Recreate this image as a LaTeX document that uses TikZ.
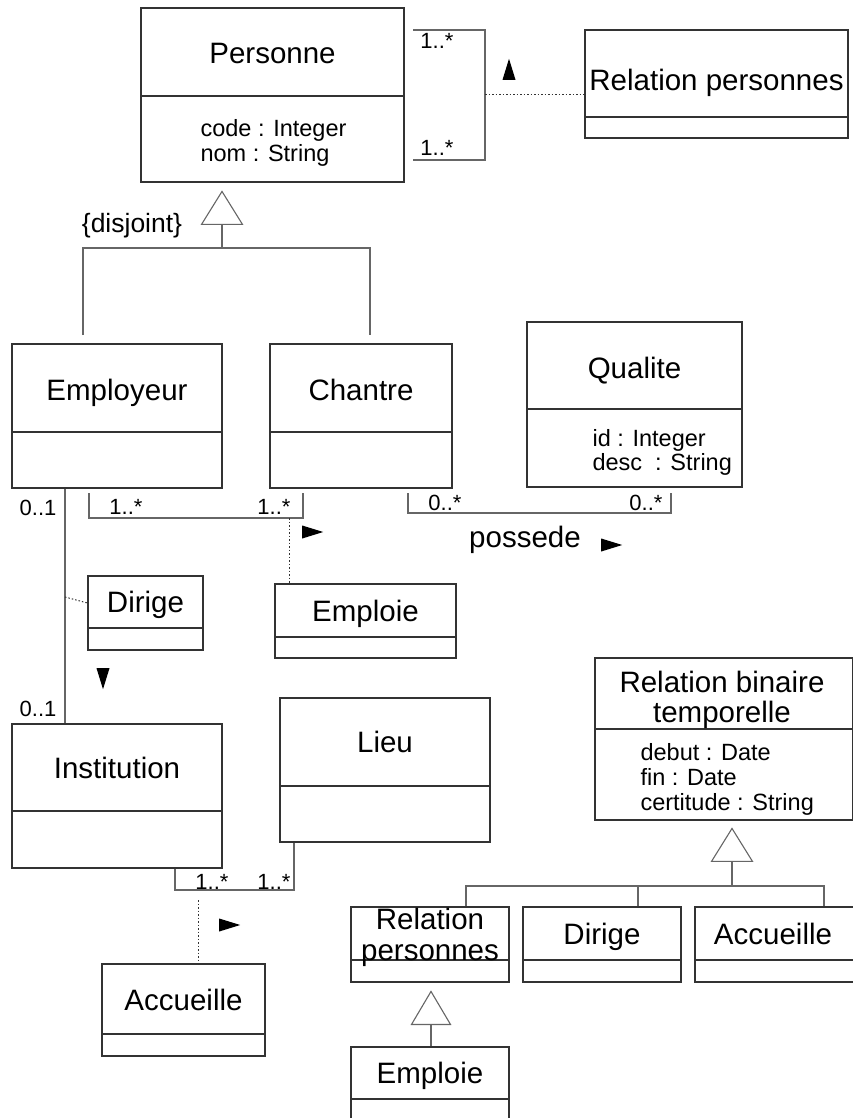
\documentclass[tikz,border=0pt]{standalone}
\usepackage{fontspec}
\setmainfont{Liberation Sans}
\usetikzlibrary{shapes.geometric}

\begin{document}
\begin{tikzpicture}[x=1pt, y=-1pt, line width=1.1pt,
    cls/.style = {draw=black!80, rectangle, inner sep=0pt},
    ttl/.style = {font=\fontsize{29.5}{35}\selectfont, inner sep=0pt, text height=21pt, text depth=0pt},
    att/.style = {font=\fontsize{23.5}{28}\selectfont, inner sep=0pt, text height=17pt, text depth=0pt, anchor=west},
    mult/.style = {font=\fontsize{22}{26}\selectfont, inner sep=0pt, text height=16pt, text depth=0pt},
    gen/.style = {draw=black!60, fill=white, isosceles triangle, isosceles triangle stretches, shape border rotate=90, inner sep=0pt, minimum height=33pt, minimum width=41pt, anchor=apex},
    dir/.style = {fill=black, isosceles triangle, isosceles triangle stretches, inner sep=0pt, minimum height=21pt, minimum width=13pt},
    line/.style = {draw=black!60},
    dots/.style = {draw=black!80, line width=1pt, dash pattern=on 1.5pt off 2pt}]
        \useasboundingbox (0,0) rectangle (852,1118);

        \node[cls, minimum width=263pt, minimum height=174pt] (personne) at (272.5,95) {};
        \node[cls, minimum width=263pt, minimum height=108pt] (relpers) at (716.5,84) {};
        \node[cls, minimum width=210pt, minimum height=144pt] (employeur) at (117,416) {};
        \node[cls, minimum width=182pt, minimum height=144pt] (chantre) at (361,416) {};
        \node[cls, minimum width=215pt, minimum height=165pt] (qualite) at (634.5,404.5) {};
        \node[cls, minimum width=115pt, minimum height=74pt] (dirige) at (145.5,613) {};
        \node[cls, minimum width=181pt, minimum height=74pt] (emploie) at (365.5,621) {};
        \node[cls, minimum width=210pt, minimum height=144pt] (institution) at (117,796) {};
        \node[cls, minimum width=210pt, minimum height=144pt] (lieu) at (385,770) {};
        \node[cls, minimum width=163pt, minimum height=92pt] (accueille) at (183.5,1010) {};
        \node[cls, minimum width=258pt, minimum height=162pt] (relbin) at (724,739) {};
        \node[cls, minimum width=158pt, minimum height=75pt] (relpersb) at (430,944.5) {};
        \node[cls, minimum width=158pt, minimum height=75pt] (dirigeb) at (602,944.5) {};
        \node[cls, minimum width=160pt, minimum height=75pt] (accueilleb) at (775,944.5) {};
        \node[cls, minimum width=158pt, minimum height=80pt] (emploieb) at (430,1087) {};

        \draw[draw=black!80] (personne.west |- 0,96) -- (personne.east |- 0,96);
        \draw[draw=black!80] (relpers.west |- 0,117) -- (relpers.east |- 0,117);
        \draw[draw=black!80] (employeur.west |- 0,432) -- (employeur.east |- 0,432);
        \draw[draw=black!80] (chantre.west |- 0,432) -- (chantre.east |- 0,432);
        \draw[draw=black!80] (qualite.west |- 0,409) -- (qualite.east |- 0,409);
        \draw[draw=black!80] (dirige.west |- 0,628) -- (dirige.east |- 0,628);
        \draw[draw=black!80] (emploie.west |- 0,637) -- (emploie.east |- 0,637);
        \draw[draw=black!80] (institution.west |- 0,811) -- (institution.east |- 0,811);
        \draw[draw=black!80] (lieu.west |- 0,786) -- (lieu.east |- 0,786);
        \draw[draw=black!80] (accueille.west |- 0,1034) -- (accueille.east |- 0,1034);
        \draw[draw=black!80] (relbin.west |- 0,729) -- (relbin.east |- 0,729);
        \draw[draw=black!80] (relpersb.west |- 0,960) -- (relpersb.east |- 0,960);
        \draw[draw=black!80] (dirigeb.west |- 0,960) -- (dirigeb.east |- 0,960);
        \draw[draw=black!80] (accueilleb.west |- 0,960) -- (accueilleb.east |- 0,960);
        \draw[draw=black!80] (emploieb.west |- 0,1099) -- (emploieb.east |- 0,1099);

        \node[ttl] (tpersonne) at (personne.north |- 0,53) {Personne};
        \node[ttl] (trelpers) at (relpers.north |- 0,80) {Relation personnes};
        \node[ttl] (temployeur) at (employeur.north |- 0,390) {Employeur};
        \node[ttl] (tchantre) at (chantre.north |- 0,390) {Chantre};
        \node[ttl] (tqualite) at (qualite.north |- 0,368) {Qualite};
        \node[ttl] (tdirige) at (dirige.north |- 0,602) {Dirige};
        \node[ttl] (temploie) at (emploie.north |- 0,611) {Emploie};
        \node[ttl] (tinstitution) at (institution.north |- 0,768) {Institution};
        \node[ttl] (tlieu) at (lieu.north |- 0,742) {Lieu};
        \node[ttl] (taccueille) at (accueille.north |- 0,1000) {Accueille};
        \node[ttl] (trelbin) at (722,682) {Relation binaire};
        \node[ttl] (ttemporelle) at (722,712) {temporelle};
        \node[ttl] (trelation) at (relpersb.north |- 0,919) {Relation};
        \node[ttl] (tpersonnes) at (relpersb.north |- 0,950) {personnes};
        \node[ttl] (tdirigeb) at (dirigeb.north |- 0,934) {Dirige};
        \node[ttl] (taccueilleb) at (773,934) {Accueille};
        \node[ttl] (temploieb) at (emploieb.north |- 0,1073) {Emploie};

        \node[att] (acode) at (200,128) {code : Integer};
        \node[att] (anom) at (200,153) {nom : String};
        \node[att] (aid) at (592,438) {id : Integer};
        \node[att] (adesc) at (592,462) {desc\ \ : String};
        \node[att] (adebut) at (640,752) {debut : Date};
        \node[att] (afin) at (640,777) {fin : Date};
        \node[att] (acert) at (640,802) {certitude : String};

        \node[gen] (genpers) at (222,190) {};
        \node[gen] (genrel) at (732,827) {};
        \node[gen, minimum width=39pt] (genrelpers) at (431,990) {};
        \node[font=\fontsize{26.5}{31}\selectfont, inner sep=0pt, text height=19pt, text depth=0pt] (disjoint) at (132,223) {\{disjoint\}};

        \coordinate (j1) at (222,248);
        \coordinate (g1emp) at (83,335);
        \coordinate (g1cha) at (370,335);
        \draw[line] (genpers.lower side) -- (j1);
        \draw[line] (g1emp) |- (j1) -| (g1cha);

        \coordinate (j2) at (732,886);
        \draw[line] (genrel.lower side) -- (j2);
        \draw[line] (relpersb.north -| 466,0) |- (j2) -| (accueilleb.north -| 824,0);
        \draw[line] (dirigeb.north -| 638,0) -- (j2 -| 638,0);
        \draw[line] (genrelpers.lower side) -- (genrelpers.lower side |- emploieb.north);

        \coordinate (r1) at (413,30);
        \coordinate (r2) at (413,160);
        \coordinate (ra) at (485,95);
        \draw[line] (r1) -| (ra) |- (r2);
        \draw[dots] (ra) -- (relpers.west |- ra);
        \node[mult] (m1) at (437,41) {1..*};
        \node[mult] (m2) at (437,148) {1..*};
        \node[dir, shape border rotate=90] (aup) at (509,75) {};

        \draw[line] (employeur.south -| 65,0) -- (institution.north -| 65,0);
        \draw[dots] (65,597) -- (dirige.west |- 0,603);
        \node[mult] (m3) at (38,507) {0..1};
        \node[mult] (m4) at (38,708) {0..1};
        \node[dir, shape border rotate=-90] (adown) at (103,673) {};

        \coordinate (e1) at (89,493);
        \coordinate (e2) at (303,493);
        \draw[line] (e1) |- (303,518) -- (e2);
        \draw[dots] (289,518) -- (emploie.north -| 289,0);
        \node[mult] (m5) at (126,506) {1..*};
        \node[mult] (m6) at (274,506) {1..*};
        \node[dir] (aemp) at (307,532) {};

        \coordinate (p1) at (408,493);
        \coordinate (p2) at (671,493);
        \draw[line] (p1) |- (671,513) -- (p2);
        \node[mult] (m7) at (445,502) {0..*};
        \node[mult] (m8) at (646,502) {0..*};
        \node[ttl] (possede) at (525,537) {possede};
        \node[dir] (apos) at (606,545) {};

        \draw[line] (institution.south -| 175,0) |- (294,890) -- (lieu.south -| 294,0);
        \draw[dots] (198,900) -- (accueille.north -| 198,0);
        \node[mult] (m9) at (212,881) {1..*};
        \node[mult] (m10) at (274,881) {1..*};
        \node[dir] (aacc) at (224,925) {};
\end{tikzpicture}
\end{document}
